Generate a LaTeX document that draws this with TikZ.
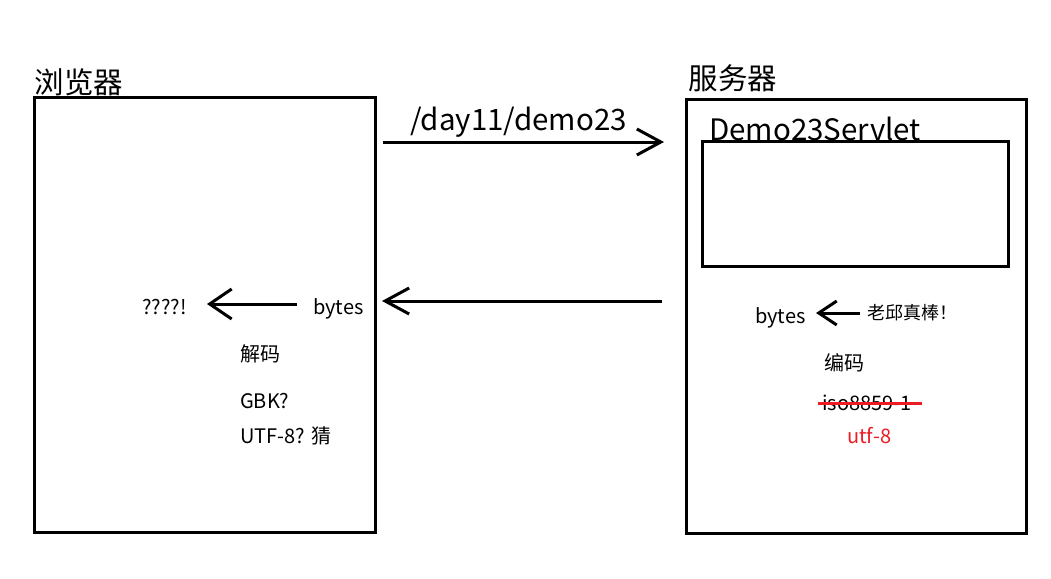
\documentclass[tikz,border=0pt]{standalone}
\usepackage{fontspec}
\setmainfont{Noto Sans CJK SC}
\usetikzlibrary{arrows.meta}
\begin{document}
\begin{tikzpicture}[x=1pt,y=-1pt,
  box/.style={draw=black,line width=3pt,inner sep=0pt},
  arr/.style={line width=3pt,-{Straight Barb[length=24pt,width=26pt,line width=3pt]}},
  sarr/.style={line width=3pt,-{Straight Barb[length=22pt,width=30pt,line width=3pt]}},
  rarr/.style={line width=3pt,-{Straight Barb[length=18pt,width=24pt,line width=3pt]}},
  big/.style={font=\fontsize{29.5}{34}\selectfont,inner sep=0pt},
  small/.style={font=\fontsize{20}{24}\selectfont,inner sep=0pt},
  tiny/.style={font=\fontsize{18}{22}\selectfont,inner sep=0pt}]
\useasboundingbox (0,0) rectangle (1051,578);
\fill[white] (0,0) rectangle (1051,578);
\definecolor{myred}{RGB}{237,28,36}
% boxes
\node[box,minimum width=341pt,minimum height=435pt] (browser) at (204.5,314.5) {};
\node[box,minimum width=340pt,minimum height=434pt] (server) at (856,316) {};
\node[box,minimum width=306pt,minimum height=125pt] (inner) at (855,203.5) {};
% titles
\node[big,anchor=center] (tb) at (79,82) {浏览器};
\node[big,anchor=center] (ts) at (733,78) {服务器};
\node[big,anchor=base west] (servlet) at (709,140) {Demo23Servlet};
% top arrow
\coordinate (a1) at (383,142);
\coordinate (a2) at (664,142);
\draw[arr] (a1) -- (a2);
\node[big,anchor=base west] (url) at (410,130) {/day11/demo23};
% bottom arrow
\coordinate (b1) at (662,301);
\coordinate (b2) at (382,301);
\draw[arr] (b1) -- (b2);
% left side
\node[small,anchor=base west] (lbytes) at (313,314) {bytes};
\node[small,anchor=base west] (q) at (142,314) {????!};
\coordinate (c1) at (297,304);
\coordinate (c2) at (207,304);
\draw[sarr] (c1) -- (c2);
\node[small,anchor=west] (jm) at (240,354) {解码};
\node[small,anchor=base west] (gbk) at (240,408) {GBK?};
\node[small,anchor=base west] (utf) at (240,443) {UTF-8? 猜};
% right side
\node[small,anchor=base west] (rbytes) at (755,323) {bytes};
\node[tiny,anchor=west] (msg) at (867,313) {老邱真棒！};
\coordinate (d1) at (860,313);
\coordinate (d2) at (816,313);
\draw[rarr] (d1) -- (d2);
\node[small,anchor=west] (bm) at (824,363) {编码};
\node[small,anchor=base west] (iso) at (822,410) {iso8859-1};
\coordinate (s1) at (818,403);
\coordinate (s2) at (922,403);
\draw[myred,line width=3pt] (s1) -- (s2);
\node[small,anchor=base west,text=myred] (u8) at (847,443) {utf-8};
\end{tikzpicture}
\end{document}
